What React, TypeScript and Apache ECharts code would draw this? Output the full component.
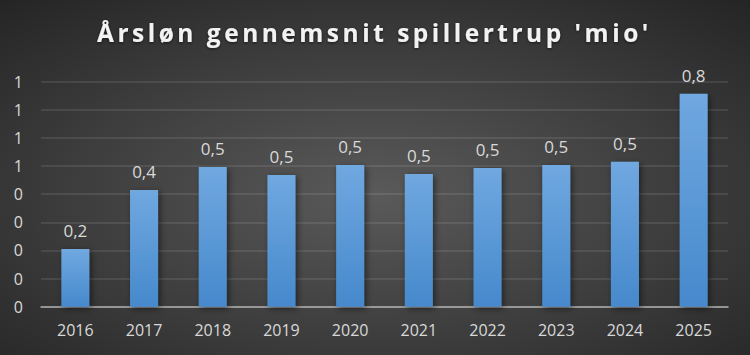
import React, { useEffect, useRef } from "react";
import * as echarts from "echarts";

const categories = ["2016", "2017", "2018", "2019", "2020", "2021", "2022", "2023", "2024", "2025"];
const values = [0.205, 0.415, 0.497, 0.468, 0.504, 0.472, 0.493, 0.504, 0.515, 0.757];
const titleText = "Årsløn gennemsnit spillertrup 'mio'";

export default function App() {
  const ref = useRef<HTMLDivElement>(null);
  useEffect(() => {
    document.body.style.margin = "0";
    const chart = echarts.init(ref.current!, null, { renderer: "svg" });
    chart.setOption({
      animation: false,
      backgroundColor: {
        type: "radial",
        x: 0.5,
        y: 0.55,
        r: 0.75,
        colorStops: [
          { offset: 0, color: "#5a5a5a" },
          { offset: 1, color: "#242424" },
        ],
      },
      title: {
        text: titleText,
        left: 97,
        top: 20,
        padding: 0,
        textStyle: {
          color: "#f2f2f2",
          fontFamily: "Open Sans",
          fontWeight: "bold",
          fontSize: 24.5,
          textShadowColor: "rgba(0,0,0,0.6)",
          textShadowBlur: 3,
          textShadowOffsetY: 1,
        },
      },
      grid: { left: 41, right: 22, top: 81.7, bottom: 48.3, containLabel: false },
      xAxis: {
        type: "category",
        data: categories,
        axisTick: { show: false },
        axisLine: { lineStyle: { color: "#b0b0b0", width: 1.5 } },
        axisLabel: { color: "#d9d9d9", fontSize: 16, fontFamily: "Open Sans", margin: 15 },
      },
      yAxis: {
        type: "value",
        min: 0,
        max: 0.8,
        interval: 0.1,
        axisLine: { show: false },
        axisTick: { show: false },
        splitLine: { lineStyle: { color: "rgba(255,255,255,0.12)", width: 1.5 } },
        axisLabel: {
          color: "#d9d9d9",
          fontSize: 16,
          fontFamily: "Open Sans",
          margin: 18,
          formatter: (v: number) => String(Math.round(v + 1e-9)),
        },
      },
      series: [
        {
          type: "bar",
          data: values,
          barWidth: 28,
          itemStyle: {
            color: {
              type: "linear",
              x: 0,
              y: 0,
              x2: 0,
              y2: 1,
              colorStops: [
                { offset: 0, color: "#70a8e0" },
                { offset: 1, color: "#4689cc" },
              ],
            },
            shadowColor: "rgba(0,0,0,0.5)",
            shadowBlur: 6,
            shadowOffsetX: 2,
            shadowOffsetY: 2,
          },
          label: {
            show: true,
            position: "top",
            distance: 10,
            color: "#d9d9d9",
            fontSize: 17,
            fontFamily: "Open Sans",
            formatter: (p: any) => p.value.toFixed(1).replace(".", ","),
          },
        },
      ],
    });
    const texts = ref.current!.querySelectorAll("text");
    texts.forEach((t) => {
      if (t.textContent === titleText) {
        (t as SVGTextElement).style.letterSpacing = "3.5px";
      }
    });
    return () => chart.dispose();
  }, []);
  return <div ref={ref} style={{ width: 750, height: 355 }} />;
}
